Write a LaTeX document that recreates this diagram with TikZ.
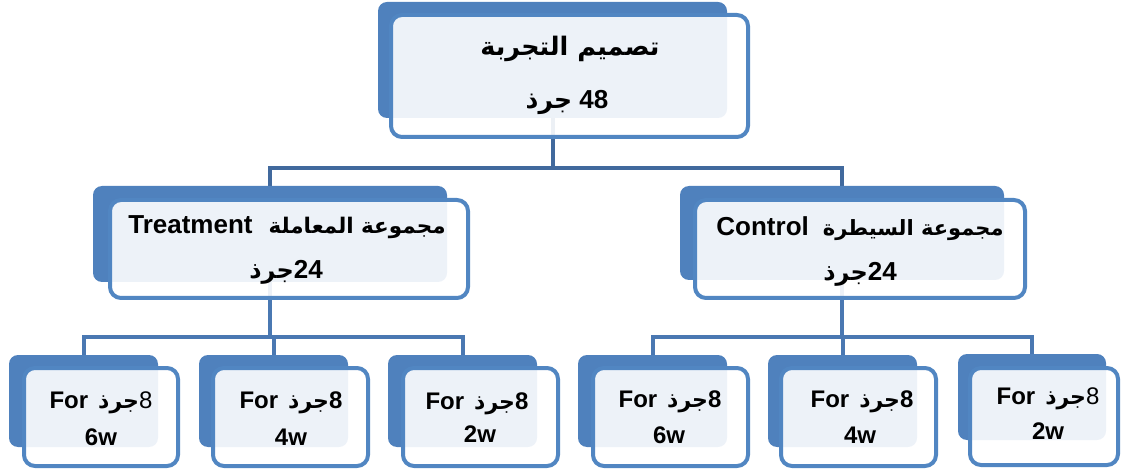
\documentclass[tikz,border=0pt]{standalone}
\usepackage{fontspec}
\setmainfont{Liberation Sans}
\newfontfamily\arabicfont[Script=Arabic]{DejaVu Sans}
\TeXXeTstate=1
\newcommand\arf[1]{\arabicfont\fontsize{#1}{#1}\selectfont}
\definecolor{bk}{HTML}{4F81BD}
\definecolor{fr}{HTML}{5186C2}
\definecolor{cnA}{HTML}{41699D}
\definecolor{cnB}{HTML}{4A78B2}
\pgfdeclarelayer{bg}
\pgfsetlayers{bg,main}
\begin{document}
\begin{tikzpicture}[x=1pt,y=-1pt,
  backbox/.style={draw=none, fill=bk, rounded corners=9pt, inner sep=0pt},
  frontbox/.style={draw=fr, line width=4pt, fill=white, fill opacity=0.9, rounded corners=11pt, inner sep=0pt},
  connA/.style={draw=cnA, line width=4pt},
  connB/.style={draw=cnB, line width=4pt},
  lblbig/.style={inner sep=0pt, font=\bfseries\fontsize{26}{30}\selectfont},
  lblmid/.style={inner sep=0pt, font=\bfseries\fontsize{26}{30}\selectfont},
  lblsm/.style={inner sep=0pt, font=\bfseries\fontsize{24}{28}\selectfont}
]
\useasboundingbox (0,0) rectangle (1127,470);

% back boxes
\node[backbox, minimum width=349pt, minimum height=116pt] (topB) at (552.5,60) {};
\node[backbox, minimum width=354pt, minimum height=96pt] (midLB) at (270,234) {};
\node[backbox, minimum width=324pt, minimum height=94pt] (midRB) at (842,233) {};
\node[backbox, minimum width=149pt, minimum height=92pt] (b1B) at (83.5,401) {};
\node[backbox, minimum width=149pt, minimum height=92pt] (b2B) at (273.5,401) {};
\node[backbox, minimum width=149pt, minimum height=92pt] (b3B) at (462.5,401) {};
\node[backbox, minimum width=149pt, minimum height=92pt] (b4B) at (652.5,401) {};
\node[backbox, minimum width=149pt, minimum height=92pt] (b5B) at (842.5,401) {};
\node[backbox, minimum width=148pt, minimum height=86pt] (b6B) at (1032,397) {};

% front boxes
\node[frontbox, minimum width=357pt, minimum height=122pt] (topF) at (569.5,76) {};
\node[frontbox, minimum width=358pt, minimum height=98pt] (midLF) at (289,249) {};
\node[frontbox, minimum width=330pt, minimum height=98pt] (midRF) at (860,249) {};
\node[frontbox, minimum width=154pt, minimum height=98pt] (b1F) at (101,417) {};
\node[frontbox, minimum width=155pt, minimum height=98pt] (b2F) at (290.5,417) {};
\node[frontbox, minimum width=155pt, minimum height=98pt] (b3F) at (480.5,417) {};
\node[frontbox, minimum width=155pt, minimum height=98pt] (b4F) at (670.5,417) {};
\node[frontbox, minimum width=155pt, minimum height=98pt] (b5F) at (858.5,417) {};
\node[frontbox, minimum width=148pt, minimum height=97pt] (b6F) at (1044,416.5) {};

% junctions
\coordinate (jTop) at (552.5,168);
\coordinate (jL) at (270,337);
\coordinate (jR) at (842,337);

\begin{pgfonlayer}{bg}
\draw[connA] (topB.center) -- (jTop);
\draw[connA] (midLB.north) |- (jTop) -| (midRB.north);
\draw[connB] (midLB.center) -- (jL);
\draw[connB] (b1B.north) |- (jL) -| (b3B.north);
\draw[connB] (b2B.north) |- (jL);
\draw[connB] (midRB.center) -- (jR);
\draw[connB] (b4B.north) |- (jR) -| (b6B.north);
\draw[connB] (b5B.north) |- (jR);
\end{pgfonlayer}

% texts
\node[lblbig] (t1) at (570,49) {{\arf{25.5}\beginR تصميم التجربة\endR}};
\node[lblbig] (t2) at (567,102) {{\arf{25}\beginR جرذ\endR} 48};
\node[lblmid] (mL1) at (287,227) {Treatment\hspace{16pt}{\arf{21.5}\beginR مجموعة المعاملة\endR}};
\node[lblmid] (mL2) at (286,272) {{\arf{24}\beginR جرذ\endR}24};
\node[lblmid] (mR1) at (860,229) {Control\hspace{14pt}{\arf{21}\beginR مجموعة السيطرة\endR}};
\node[lblmid] (mR2) at (860,274) {{\arf{24}\beginR جرذ\endR}24};

\node[lblsm] (s1a) at (101,403) {For\hspace{10pt}{\arf{22}\beginR جرذ\endR}{\mdseries 8}};
\node[lblsm] (s1b) at (101,437) {6w};
\node[lblsm] (s2a) at (291,403) {For\hspace{10pt}{\arf{22}\beginR جرذ\endR}8};
\node[lblsm] (s2b) at (291,437) {4w};
\node[lblsm] (s3a) at (477,404) {For\hspace{10pt}{\arf{22}\beginR جرذ\endR}8};
\node[lblsm] (s3b) at (480,434) {2w};
\node[lblsm] (s4a) at (670,402) {For\hspace{10pt}{\arf{22}\beginR جرذ\endR}8};
\node[lblsm] (s4b) at (669,435) {6w};
\node[lblsm] (s5a) at (862,402) {For\hspace{10pt}{\arf{22}\beginR جرذ\endR}8};
\node[lblsm] (s5b) at (860,435) {4w};
\node[lblsm] (s6a) at (1048,399) {For\hspace{10pt}{\arf{22}\beginR جرذ\endR}{\mdseries 8}};
\node[lblsm] (s6b) at (1048,431) {2w};
\end{tikzpicture}
\end{document}
